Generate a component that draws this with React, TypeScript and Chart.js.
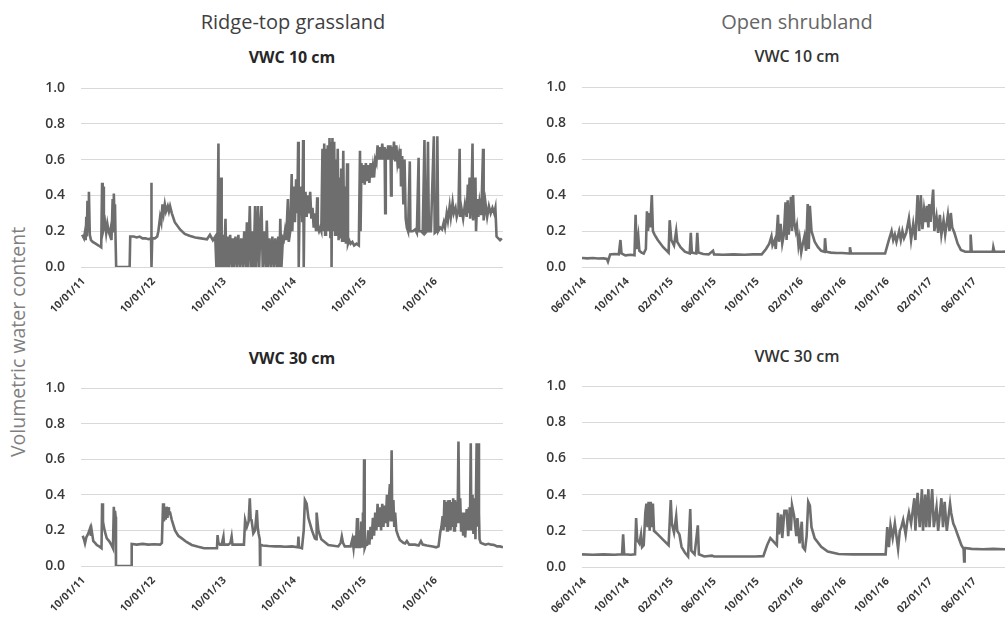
import React, { useEffect, useRef, useState } from "react";
import { Chart, registerables } from "chart.js";

Chart.register(...registerables);

type Pt = [number, number];

// x = months since 10/01/11 (ridge-top grassland)
const grassTickValues = [0, 12, 24, 36, 48, 60];
const grassTickLabels = ["10/01/11", "10/01/12", "10/01/13", "10/01/14", "10/01/15", "10/01/16"];

// x = months since 06/01/14 (open shrubland)
const shrubTickValues = [0, 4, 8, 12, 16, 20, 24, 28, 32, 36];
const shrubTickLabels = ["06/01/14", "10/01/14", "02/01/15", "06/01/15", "10/01/15", "02/01/16", "06/01/16", "10/01/16", "02/01/17", "06/01/17"];

const yTickValues = [0, 0.2, 0.4, 0.6, 0.8, 1.0];

const grass10: Pt[] = [
  [0.2, 0.18], [0.5, 0.16], [0.7, 0.2], [0.8, 0.15], [0.9, 0.28], [1.0, 0.17], [1.1, 0.37], [1.2, 0.2], [1.35, 0.42], [1.5, 0.18],
  [1.7, 0.15], [2.0, 0.14], [2.5, 0.13], [3.0, 0.12], [3.45, 0.11], [3.6, 0.47], [3.7, 0.2], [3.8, 0.45], [3.9, 0.22], [4.1, 0.25],
  [4.3, 0.19], [4.5, 0.24], [4.7, 0.2], [4.9, 0.18], [5.1, 0.22], [5.2, 0.15], [5.4, 0.38], [5.5, 0.2], [5.6, 0.41], [5.7, 0.3],
  [5.8, 0.35], [5.9, 0.15], [6.0, 0.0], [8.3, 0.0], [8.4, 0.17], [9.0, 0.17], [9.5, 0.165], [10.0, 0.17], [10.5, 0.16], [11.0, 0.16],
  [11.5, 0.155], [11.95, 0.16], [12.0, 0.47], [12.05, 0.0], [12.15, 0.16], [12.6, 0.16], [13.0, 0.17], [13.2, 0.2], [13.5, 0.28], [13.7, 0.25],
  [13.9, 0.35], [14.1, 0.3], [14.3, 0.35], [14.5, 0.31], [14.8, 0.34], [15.0, 0.31], [15.2, 0.34], [15.5, 0.3], [16.0, 0.25], [16.9, 0.21],
  [17.7, 0.185], [18.5, 0.175], [19.5, 0.165], [20.5, 0.16], [21.5, 0.155], [22.0, 0.18], [22.5, 0.15],
  [22.9, 0.17], [23.1, 0.0], [23.3, 0.18], [23.45, 0.69], [23.55, 0.0], [23.75, 0.17], [23.9, 0.5], [24.0, 0.0], [24.2, 0.18], [24.4, 0.0],
  [24.65, 0.27], [24.8, 0.0], [25.0, 0.17], [25.2, 0.0], [25.45, 0.18], [25.7, 0.0], [25.9, 0.16], [26.1, 0.0], [26.35, 0.17], [26.6, 0.0],
  [26.85, 0.18], [27.1, 0.0], [27.35, 0.16], [27.6, 0.0], [27.85, 0.2], [28.1, 0.0], [28.3, 0.25], [28.5, 0.0], [28.8, 0.34], [29.0, 0.0],
  [29.2, 0.2], [29.45, 0.0], [29.7, 0.34], [29.9, 0.0], [30.2, 0.34], [30.4, 0.0], [30.6, 0.22], [30.8, 0.34], [31.0, 0.0], [31.25, 0.2],
  [31.5, 0.0], [31.7, 0.26], [31.9, 0.0], [32.15, 0.16], [32.4, 0.0], [32.65, 0.17], [32.9, 0.0], [33.15, 0.16], [33.4, 0.0], [33.65, 0.17],
  [33.85, 0.0], [34.0, 0.27], [34.2, 0.0], [34.45, 0.16], [34.6, 0.15], [34.8, 0.2], [35.0, 0.15], [35.3, 0.38], [35.45, 0.14], [35.7, 0.2],
  [35.95, 0.52], [36.05, 0.2], [36.3, 0.45], [36.5, 0.25], [36.7, 0.49], [36.9, 0.3], [37.05, 0.7], [37.15, 0.0], [37.3, 0.35], [37.5, 0.3],
  [37.6, 0.45], [37.75, 0.25], [37.9, 0.71], [38.0, 0.0], [38.1, 0.3], [38.3, 0.42], [38.5, 0.28], [38.7, 0.4], [38.9, 0.3], [39.1, 0.42],
  [39.3, 0.27], [39.5, 0.33], [39.7, 0.22], [39.9, 0.3], [40.1, 0.2], [40.3, 0.39], [40.4, 0.22], [40.6, 0.2], [40.8, 0.22], [41.0, 0.2],
  [41.2, 0.66], [41.35, 0.2], [41.5, 0.69], [41.65, 0.18], [41.8, 0.66], [41.95, 0.22], [42.1, 0.68], [42.25, 0.2], [42.4, 0.72], [42.55, 0.16],
  [42.7, 0.7], [42.75, 0.0], [42.9, 0.72], [43.05, 0.2], [43.2, 0.7], [43.35, 0.18], [43.5, 0.6], [43.65, 0.2], [43.8, 0.66], [43.95, 0.15],
  [44.1, 0.5], [44.25, 0.16], [44.4, 0.55], [44.55, 0.14], [44.75, 0.65], [44.9, 0.14], [45.05, 0.45], [45.2, 0.13], [45.4, 0.58], [45.55, 0.13],
  [45.75, 0.15], [46.0, 0.13], [46.3, 0.14], [46.6, 0.12], [47.0, 0.13], [47.4, 0.12],
  [47.6, 0.65], [47.7, 0.2], [47.85, 0.58], [48.0, 0.47], [48.2, 0.57], [48.4, 0.46], [48.6, 0.58], [48.8, 0.48], [49.0, 0.57], [49.2, 0.47],
  [49.4, 0.58], [49.6, 0.5], [49.8, 0.56], [50.0, 0.5], [50.2, 0.6], [50.4, 0.58], [50.6, 0.68], [50.8, 0.6], [51.0, 0.67], [51.2, 0.6],
  [51.4, 0.69], [51.6, 0.6], [51.8, 0.67], [51.9, 0.3], [52.0, 0.66], [52.2, 0.6], [52.4, 0.68], [52.6, 0.6], [52.8, 0.68], [52.9, 0.4],
  [53.0, 0.67], [53.2, 0.6], [53.4, 0.7], [53.6, 0.59], [53.8, 0.68], [54.0, 0.58], [54.2, 0.62], [54.3, 0.55], [54.5, 0.66], [54.6, 0.45],
  [54.8, 0.62], [55.0, 0.35], [55.2, 0.6], [55.4, 0.27], [55.6, 0.22], [55.8, 0.2], [56.1, 0.59], [56.2, 0.2], [56.6, 0.2], [57.0, 0.21],
  [57.3, 0.19], [57.6, 0.61], [57.7, 0.2], [58.0, 0.2], [58.3, 0.19], [58.6, 0.71], [58.75, 0.19], [59.0, 0.2], [59.2, 0.7], [59.35, 0.2],
  [59.7, 0.2], [60.2, 0.73], [60.35, 0.19], [60.7, 0.2], [60.8, 0.73], [60.95, 0.2], [61.3, 0.22], [61.6, 0.21], [61.9, 0.25], [62.1, 0.22],
  [62.4, 0.3], [62.6, 0.26], [62.9, 0.34], [63.1, 0.28], [63.4, 0.36], [63.6, 0.3], [63.9, 0.33], [64.1, 0.28], [64.4, 0.32], [64.6, 0.66],
  [64.7, 0.28], [64.9, 0.33], [65.2, 0.27], [65.5, 0.35], [65.8, 0.28], [66.0, 0.46], [66.1, 0.3], [66.3, 0.5], [66.4, 0.27], [66.6, 0.36],
  [66.8, 0.69], [66.9, 0.26], [67.1, 0.35], [67.3, 0.5], [67.4, 0.2], [67.6, 0.38], [67.8, 0.28], [68.0, 0.36], [68.3, 0.29], [68.6, 0.66],
  [68.7, 0.26], [69.0, 0.36], [69.3, 0.28], [69.6, 0.34], [69.9, 0.3], [70.2, 0.33], [70.5, 0.3], [70.7, 0.33], [70.9, 0.17], [71.2, 0.16],
  [71.5, 0.15], [71.8, 0.16],
];

const grass30: Pt[] = [
  [0.3, 0.17], [0.5, 0.15], [0.68, 0.127], [0.9, 0.16], [1.25, 0.183], [1.54, 0.211], [1.7, 0.17], [1.82, 0.2], [2.1, 0.14], [2.4, 0.13],
  [2.7, 0.118], [3.1, 0.11], [3.5, 0.1], [3.6, 0.352], [3.75, 0.25], [3.9, 0.22], [4.1, 0.19], [4.4, 0.155], [4.8, 0.14], [5.2, 0.118],
  [5.45, 0.1], [5.6, 0.333], [5.7, 0.26], [5.8, 0.31], [5.9, 0.277], [5.97, 0.0], [8.6, 0.0], [8.65, 0.124], [9.5, 0.12], [10.5, 0.124],
  [11.5, 0.12], [12.5, 0.122], [13.5, 0.12], [13.8, 0.13], [14.0, 0.352], [14.15, 0.25], [14.3, 0.33], [14.45, 0.26], [14.6, 0.333], [14.75, 0.27],
  [14.9, 0.33], [15.0, 0.3], [15.2, 0.3], [15.5, 0.258], [16.04, 0.2], [16.6, 0.17], [17.2, 0.155], [18.0, 0.135], [18.9, 0.118], [20.0, 0.108],
  [21.0, 0.1], [22.5, 0.1], [23.2, 0.1], [23.3, 0.174], [23.45, 0.13], [23.7, 0.12], [24.0, 0.12], [24.3, 0.165], [24.4, 0.12], [25.15, 0.12],
  [25.5, 0.13], [25.7, 0.165], [25.85, 0.12], [27.0, 0.12], [27.8, 0.12], [28.0, 0.258], [28.3, 0.22], [28.6, 0.25], [28.8, 0.38], [28.95, 0.26],
  [29.1, 0.258], [29.4, 0.183], [29.7, 0.2], [30.0, 0.314], [30.15, 0.22], [30.3, 0.183], [30.5, 0.15], [30.55, 0.0], [30.6, 0.12], [31.0, 0.115],
  [32.0, 0.112], [33.1, 0.11], [34.0, 0.11], [34.8, 0.108], [36.0, 0.11], [37.0, 0.105], [37.1, 0.165], [37.2, 0.105], [37.7, 0.1], [38.0, 0.2],
  [38.2, 0.37], [38.5, 0.35], [38.8, 0.27], [39.4, 0.2], [39.9, 0.155], [40.1, 0.15], [40.2, 0.3], [40.5, 0.2], [41.0, 0.15], [42.2, 0.118],
  [43.9, 0.11], [44.3, 0.13], [44.5, 0.165], [44.7, 0.13], [45.0, 0.11], [46.0, 0.11], [46.3, 0.15], [46.5, 0.1], [46.7, 0.17], [46.9, 0.1],
  [47.1, 0.27], [47.25, 0.1], [47.45, 0.2], [47.6, 0.1], [47.8, 0.25], [47.95, 0.11], [48.1, 0.3], [48.2, 0.12], [48.3, 0.6], [48.4, 0.1],
  [48.6, 0.12], [48.8, 0.12], [49.0, 0.2], [49.2, 0.12], [49.4, 0.22], [49.6, 0.15], [49.8, 0.27], [50.0, 0.17], [50.2, 0.3], [50.4, 0.2],
  [50.6, 0.35], [50.8, 0.22], [51.0, 0.33], [51.2, 0.2], [51.4, 0.35], [51.6, 0.22], [51.8, 0.34], [52.0, 0.24], [52.2, 0.4], [52.35, 0.22],
  [52.5, 0.36], [52.7, 0.46], [52.85, 0.25], [53.0, 0.65], [53.1, 0.25], [53.3, 0.37], [53.45, 0.22], [53.6, 0.3], [53.8, 0.2], [54.1, 0.17],
  [54.4, 0.146], [55.0, 0.13], [55.3, 0.127], [55.6, 0.14], [56.0, 0.12], [57.0, 0.12], [57.6, 0.115], [58.0, 0.14], [58.3, 0.12], [59.0, 0.115],
  [60.0, 0.11], [60.6, 0.105], [61.0, 0.11], [61.3, 0.19], [61.5, 0.22], [61.7, 0.28], [61.85, 0.2], [62.0, 0.37], [62.15, 0.22], [62.3, 0.36],
  [62.45, 0.2], [62.6, 0.37], [62.75, 0.22], [62.9, 0.37], [63.05, 0.2], [63.2, 0.36], [63.35, 0.22], [63.5, 0.38], [63.65, 0.2], [63.8, 0.37],
  [63.95, 0.22], [64.1, 0.36], [64.25, 0.24], [64.4, 0.7], [64.55, 0.24], [64.7, 0.38], [64.85, 0.2], [65.0, 0.3], [65.2, 0.17], [65.4, 0.3],
  [65.55, 0.16], [65.8, 0.32], [66.0, 0.2], [66.2, 0.33], [66.35, 0.2], [66.5, 0.69], [66.6, 0.2], [66.8, 0.4], [66.95, 0.18], [67.1, 0.38],
  [67.3, 0.15], [67.5, 0.69], [67.6, 0.22], [67.75, 0.69], [67.9, 0.3], [68.0, 0.15], [68.2, 0.13], [68.6, 0.125], [69.0, 0.12], [69.5, 0.125],
  [70.0, 0.12], [70.5, 0.118], [71.0, 0.11], [71.5, 0.11], [72.0, 0.105],
];

const shrub10: Pt[] = [
  [0, 0.05], [0.5, 0.048], [1.0, 0.05], [1.5, 0.047], [2.0, 0.048], [2.3, 0.045], [2.4, 0.03], [2.5, 0.05], [2.6, 0.07], [3.0, 0.072],
  [3.4, 0.07], [3.55, 0.15], [3.65, 0.075], [4.0, 0.065], [4.5, 0.068], [4.85, 0.065], [4.95, 0.29], [5.05, 0.1], [5.2, 0.17], [5.3, 0.09],
  [5.5, 0.08], [5.7, 0.075], [5.9, 0.1], [6.0, 0.31], [6.1, 0.2], [6.2, 0.3], [6.3, 0.22], [6.45, 0.4], [6.55, 0.2], [6.7, 0.18],
  [7.0, 0.15], [7.5, 0.11], [8.0, 0.08], [8.1, 0.26], [8.25, 0.15], [8.5, 0.12], [8.7, 0.2], [8.8, 0.14], [9.1, 0.11], [9.5, 0.085],
  [9.95, 0.075], [10.05, 0.19], [10.15, 0.08], [10.55, 0.075], [10.65, 0.19], [10.75, 0.08], [11.2, 0.072], [11.7, 0.07], [12.1, 0.09], [12.2, 0.07],
  [13.0, 0.068], [14.0, 0.07], [15.0, 0.068], [15.8, 0.07], [16.6, 0.07], [17.0, 0.1], [17.3, 0.13], [17.5, 0.17], [17.6, 0.12], [17.8, 0.15],
  [17.9, 0.1], [18.1, 0.29], [18.2, 0.14], [18.35, 0.24], [18.5, 0.13], [18.65, 0.18], [18.8, 0.36], [18.9, 0.15], [19.0, 0.37], [19.1, 0.18],
  [19.3, 0.39], [19.4, 0.2], [19.5, 0.4], [19.6, 0.25], [19.75, 0.2], [19.85, 0.23], [20.0, 0.12], [20.1, 0.16], [20.25, 0.08], [20.4, 0.13],
  [20.55, 0.17], [20.7, 0.09], [20.85, 0.35], [20.95, 0.1], [21.05, 0.34], [21.2, 0.2], [21.5, 0.14], [21.8, 0.11], [22.1, 0.09], [22.4, 0.085],
  [22.45, 0.16], [22.55, 0.085], [23.0, 0.08], [23.5, 0.078], [24.0, 0.078], [24.7, 0.075], [24.75, 0.11], [24.85, 0.075], [25.5, 0.075], [26.5, 0.075],
  [27.5, 0.075], [28.0, 0.075], [28.3, 0.14], [28.45, 0.17], [28.6, 0.2], [28.75, 0.15], [28.9, 0.18], [29.05, 0.14], [29.3, 0.2], [29.45, 0.15],
  [29.6, 0.2], [29.75, 0.16], [29.95, 0.19], [30.2, 0.27], [30.4, 0.15], [30.6, 0.24], [30.8, 0.15], [31.0, 0.4], [31.15, 0.2], [31.3, 0.4],
  [31.45, 0.21], [31.6, 0.32], [31.75, 0.25], [31.85, 0.34], [32.0, 0.22], [32.07, 0.35], [32.2, 0.25], [32.44, 0.43], [32.55, 0.2], [32.75, 0.28],
  [32.9, 0.19], [33.06, 0.29], [33.2, 0.18], [33.4, 0.26], [33.55, 0.18], [33.8, 0.29], [33.95, 0.2], [34.07, 0.3], [34.2, 0.22], [34.4, 0.19],
  [34.7, 0.13], [35.0, 0.095], [35.4, 0.085], [35.85, 0.085], [35.9, 0.18], [36.0, 0.085], [36.5, 0.085], [37.2, 0.085], [37.95, 0.085], [38.0, 0.11],
  [38.1, 0.085], [38.8, 0.085], [39.5, 0.087], [40.0, 0.085],
];

const shrub30: Pt[] = [
  [0, 0.07], [1.0, 0.068], [2.0, 0.07], [3.0, 0.068], [3.7, 0.07], [3.8, 0.18], [3.9, 0.07], [4.5, 0.068], [4.9, 0.07], [5.0, 0.27],
  [5.1, 0.15], [5.3, 0.13], [5.45, 0.18], [5.55, 0.11], [5.7, 0.12], [5.85, 0.3], [5.95, 0.35], [6.05, 0.22], [6.15, 0.36], [6.25, 0.2],
  [6.35, 0.36], [6.45, 0.22], [6.55, 0.35], [6.65, 0.2], [7.0, 0.18], [7.5, 0.15], [8.0, 0.12], [8.2, 0.37], [8.3, 0.24], [8.5, 0.19],
  [8.7, 0.28], [8.8, 0.2], [9.0, 0.18], [9.2, 0.11], [9.5, 0.08], [9.8, 0.058], [10.0, 0.32], [10.1, 0.09], [10.4, 0.07], [10.7, 0.23],
  [10.8, 0.07], [11.3, 0.058], [12.0, 0.063], [12.2, 0.058], [13.0, 0.058], [14.0, 0.058], [15.0, 0.058], [16.0, 0.058], [16.75, 0.06], [17.1, 0.12],
  [17.4, 0.16], [17.7, 0.14], [18.0, 0.12], [18.1, 0.3], [18.2, 0.18], [18.4, 0.29], [18.5, 0.16], [18.7, 0.31], [18.9, 0.31], [19.05, 0.17],
  [19.2, 0.33], [19.3, 0.2], [19.4, 0.34], [19.6, 0.28], [19.8, 0.17], [19.9, 0.27], [20.1, 0.13], [20.3, 0.25], [20.4, 0.11], [20.6, 0.094],
  [20.75, 0.17], [20.9, 0.36], [21.05, 0.34], [21.2, 0.22], [21.5, 0.158], [22.1, 0.112], [22.7, 0.085], [23.7, 0.072], [25.0, 0.07], [26.0, 0.07],
  [27.0, 0.07], [28.05, 0.07], [28.2, 0.22], [28.35, 0.11], [28.5, 0.23], [28.7, 0.16], [28.9, 0.24], [29.2, 0.1], [29.36, 0.2], [29.5, 0.22],
  [29.67, 0.26], [29.9, 0.18], [30.07, 0.26], [30.2, 0.3], [30.4, 0.24], [30.7, 0.38], [30.8, 0.2], [31.0, 0.41], [31.2, 0.22], [31.4, 0.43],
  [31.5, 0.2], [31.7, 0.4], [31.8, 0.22], [32.0, 0.43], [32.1, 0.22], [32.35, 0.43], [32.5, 0.22], [32.75, 0.33], [32.9, 0.2], [33.2, 0.38],
  [33.35, 0.22], [33.5, 0.36], [33.7, 0.2], [34.0, 0.35], [34.1, 0.3], [34.3, 0.24], [34.45, 0.22], [34.75, 0.17], [35.05, 0.12], [35.25, 0.1],
  [35.3, 0.03], [35.35, 0.105], [36.0, 0.1], [37.0, 0.098], [38.0, 0.1], [39.0, 0.098], [40.0, 0.097],
];

const LINE_COLOR = "#6e6e6e";
const TICK_COLOR = "#3a3a3a";
const FONT = "'Open Sans', 'Noto Sans', sans-serif";

type PanelProps = {
  series: Pt[];
  xMax: number;
  tickValues: number[];
  tickLabels: string[];
  left: number;
  top: number;
  width: number;
  height: number;
  padTop: number;
  padRight: number;
  yWidth: number;
  xHeight: number;
};

type LabelPos = { x: number; y: number; text: string };

function Panel(p: PanelProps) {
  const ref = useRef<HTMLCanvasElement | null>(null);
  const [labels, setLabels] = useState<LabelPos[]>([]);
  useEffect(() => {
    if (!ref.current) return;
    const chart = new Chart(ref.current, {
      type: "line",
      data: {
        datasets: [
          {
            data: p.series.map(([x, y]) => ({ x, y })),
            borderColor: LINE_COLOR,
            borderWidth: 2.6,
            pointRadius: 0,
            tension: 0,
            fill: false,
          },
        ],
      },
      options: {
        animation: false,
        responsive: false,
        events: [],
        layout: { padding: { top: p.padTop, right: p.padRight, left: 0, bottom: 0 } },
        plugins: { legend: { display: false }, tooltip: { enabled: false }, title: { display: false } },
        scales: {
          x: {
            type: "linear",
            min: 0,
            max: p.xMax,
            afterBuildTicks: (s: any) => {
              s.ticks = p.tickValues.map((v) => ({ value: v }));
            },
            afterFit: (s: any) => {
              s.height = p.xHeight;
            },
            grid: { display: false, drawTicks: false },
            border: { display: false },
            ticks: { display: false },
          },
          y: {
            type: "linear",
            min: 0,
            max: 1,
            afterBuildTicks: (s: any) => {
              s.ticks = yTickValues.map((v) => ({ value: v }));
            },
            afterFit: (s: any) => {
              s.width = p.yWidth;
            },
            grid: { color: "#d9d9d9", lineWidth: 1, drawTicks: false },
            border: { display: false },
            ticks: {
              padding: 16,
              color: TICK_COLOR,
              font: { family: FONT, size: 14, weight: "600" },
              callback: (v: any) => Number(v).toFixed(1),
            },
          },
        },
      },
    } as any);
    const xs = chart.scales.x;
    const bottom = chart.chartArea.bottom;
    setLabels(
      p.tickValues.map((v, i) => ({
        x: p.left + xs.getPixelForValue(v),
        y: p.top + bottom,
        text: p.tickLabels[i],
      }))
    );
    return () => chart.destroy();
  }, []);
  const W = 90;
  const H = 14;
  return (
    <>
      <canvas
        ref={ref}
        width={p.width}
        height={p.height}
        style={{ position: "absolute", left: p.left, top: p.top, width: p.width, height: p.height }}
      />
      {labels.map((l, i) => (
        <div
          key={i}
          style={{
            position: "absolute",
            left: l.x + 2 - W,
            top: l.y + 12 - H / 2,
            width: W,
            height: H,
            lineHeight: `${H}px`,
            textAlign: "right",
            transformOrigin: "right center",
            transform: "rotate(-45deg)",
            fontFamily: FONT,
            fontSize: 10.5,
            fontWeight: 700,
            color: TICK_COLOR,
            whiteSpace: "nowrap",
          }}
        >
          {l.text}
        </div>
      ))}
    </>
  );
}

function Label(props: { text: string; cx: number; cy: number; size: number; weight?: number | string; color: string }) {
  return (
    <div
      style={{
        position: "absolute",
        left: props.cx - 200,
        top: props.cy - 15,
        width: 400,
        height: 30,
        lineHeight: "30px",
        textAlign: "center",
        fontFamily: FONT,
        fontSize: props.size,
        fontWeight: props.weight ?? 400,
        color: props.color,
        whiteSpace: "nowrap",
      }}
    >
      {props.text}
    </div>
  );
}

export default function App() {
  return (
    <div
      style={{
        position: "fixed",
        left: 0,
        top: 0,
        width: 1005,
        height: 617,
        overflow: "hidden",
        background: "#ffffff",
      }}
    >
      <Label text="Ridge-top grassland" cx={293} cy={22} size={20} color="#404040" />
      <Label text="Open shrubland" cx={797} cy={22} size={20} color="#666666" />
      <Label text="VWC 10 cm" cx={292} cy={57} size={16} weight={700} color="#262626" />
      <Label text="VWC 10 cm" cx={797} cy={56} size={16} weight={600} color="#333333" />
      <Label text="VWC 30 cm" cx={292} cy={358} size={16} weight={700} color="#262626" />
      <Label text="VWC 30 cm" cx={797} cy={356} size={16} weight={600} color="#333333" />
      <div
        style={{
          position: "absolute",
          left: 18 - 150,
          top: 342 - 12,
          width: 300,
          height: 24,
          lineHeight: "24px",
          textAlign: "center",
          transform: "rotate(-90deg)",
          fontFamily: FONT,
          fontSize: 19.5,
          color: "#7f7f7f",
          whiteSpace: "nowrap",
        }}
      >
        Volumetric water content
      </div>

      <Panel series={grass10} xMax={72} tickValues={grassTickValues} tickLabels={grassTickLabels}
        left={0} top={58} width={520} height={262} padTop={30} padRight={17} yWidth={81} xHeight={53} />
      <Panel series={shrub10} xMax={40} tickValues={shrubTickValues} tickLabels={shrubTickLabels}
        left={500} top={57} width={530} height={263} padTop={30} padRight={15} yWidth={82} xHeight={53} />
      <Panel series={grass30} xMax={72} tickValues={grassTickValues} tickLabels={grassTickLabels}
        left={0} top={358} width={520} height={262} padTop={30} padRight={17} yWidth={81} xHeight={54} />
      <Panel series={shrub30} xMax={40} tickValues={shrubTickValues} tickLabels={shrubTickLabels}
        left={500} top={356} width={530} height={262} padTop={30} padRight={15} yWidth={82} xHeight={51} />
    </div>
  );
}
